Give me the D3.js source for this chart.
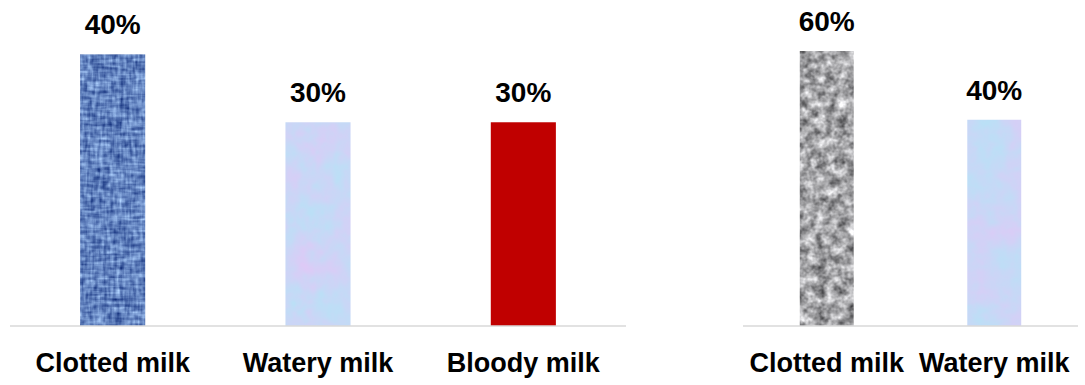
<!DOCTYPE html>
<html>
<head>
<meta charset="utf-8">
<script src="https://cdn.jsdelivr.net/npm/d3@7/dist/d3.min.js"></script>
<style>
  html, body { margin: 0; padding: 0; background: #ffffff; }
  svg { display: block; }
  text { font-family: "Liberation Sans", Arial, sans-serif; font-weight: bold; fill: #000; }
</style>
</head>
<body>
<svg id="chart" width="1085" height="385"></svg>
<script>
// Milk abnormality shares, two groups
const leftCategories = ["Clotted milk", "Watery milk", "Bloody milk"];
const leftValues = [40, 30, 30];
const leftLabels = ["40%", "30%", "30%"];

const rightCategories = ["Clotted milk", "Watery milk"];
const rightValues = [60, 40];
const rightLabels = ["60%", "40%"];

const svg = d3.select("#chart");
const defs = svg.append("defs");

// ---- texture filters (procedural noise clipped to each bar) ----
function noiseFilter(id, layers, matrix, blur) {
  const f = defs.append("filter").attr("id", id)
    .attr("x", 0).attr("y", 0).attr("width", 1).attr("height", 1)
    .attr("color-interpolation-filters", "sRGB");
  layers.forEach((l, i) => {
    f.append("feTurbulence")
      .attr("type", l.type || "fractalNoise")
      .attr("baseFrequency", l.freq)
      .attr("numOctaves", l.oct || 2)
      .attr("seed", l.seed || 1)
      .attr("stitchTiles", "stitch")
      .attr("result", "n" + i);
  });
  let last = "n0";
  for (let i = 1; i < layers.length; i++) {
    const w = layers[i].w;
    f.append("feComposite")
      .attr("in", last).attr("in2", "n" + i)
      .attr("operator", "arithmetic")
      .attr("k1", 0).attr("k2", 1 - w).attr("k3", w).attr("k4", 0)
      .attr("result", "m" + i);
    last = "m" + i;
  }
  f.append("feColorMatrix").attr("in", last).attr("type", "matrix")
    .attr("values", matrix).attr("result", "col");
  let src = "col";
  if (blur) {
    f.append("feGaussianBlur").attr("in", "col").attr("stdDeviation", blur).attr("result", "soft");
    src = "soft";
  }
  f.append("feComposite").attr("in", src).attr("in2", "SourceGraphic")
    .attr("operator", "in");
}

// woven blue denim
noiseFilter("denim", [
  { freq: "0.05 0.3", oct: 2, seed: 3 },
  { freq: "0.3 0.05", oct: 2, seed: 7, w: 0.5 },
  { freq: "0.22 0.22", oct: 1, seed: 11, w: 0.3 }
],
  "1.25 0 0 0 -0.24  " +
  "1.3 0 0 0 -0.14  " +
  "1.05 0 0 0 0.22  " +
  "0 0 0 0 1", 0.6);

// grey granite
noiseFilter("granite", [
  { freq: "0.1", oct: 3, seed: 5 },
  { freq: "0.3", oct: 1, seed: 9, w: 0.25 }
],
  "1.25 0 0 0 0.02  " +
  "1.25 0 0 0 0.02  " +
  "1.25 0 0 0 0.03  " +
  "0 0 0 0 1", 0.7);

// pale watercolour blue / lavender
noiseFilter("watery", [
  { freq: "0.025", oct: 3, seed: 2 },
  { freq: "0.1", oct: 2, seed: 4, w: 0.3 }
],
  "0.22 0 0 0 0.68  " +
  "-0.14 0 0 0 0.91  " +
  "0 0 0 0 0.965  " +
  "0 0 0 0 1");

const fillFor = {
  "Clotted milk|L": { fill: "#5a7fbf", filter: "url(#denim)" },
  "Watery milk|L": { fill: "#cfdcf6", filter: "url(#watery)" },
  "Bloody milk|L": { fill: "#c00000", filter: null },
  "Clotted milk|R": { fill: "#a8a8a8", filter: "url(#granite)" },
  "Watery milk|R": { fill: "#cfdcf6", filter: "url(#watery)" }
};

function drawPanel(key, cats, vals, labels, xRange, yScale, padInner) {
  const x = d3.scaleBand().domain(cats).range(xRange)
    .paddingInner(padInner).paddingOuter(padInner / 2);
  const base = yScale.range()[0];
  const g = svg.append("g");

  g.selectAll("rect.bar").data(cats).join("rect")
    .attr("class", "bar")
    .attr("x", d => x(d))
    .attr("width", x.bandwidth())
    .attr("y", (d, i) => yScale(vals[i]))
    .attr("height", (d, i) => base - yScale(vals[i]))
    .attr("fill", d => fillFor[d + "|" + key].fill)
    .attr("filter", d => fillFor[d + "|" + key].filter);

  // category axis line
  g.append("line")
    .attr("x1", xRange[0]).attr("x2", xRange[1])
    .attr("y1", base).attr("y2", base)
    .attr("stroke", "#d9d9d9").attr("stroke-width", 1.5);

  // value labels
  g.selectAll("text.val").data(cats).join("text")
    .attr("class", "val")
    .attr("x", d => x(d) + x.bandwidth() / 2)
    .attr("y", (d, i) => yScale(vals[i]) - 20)
    .attr("text-anchor", "middle")
    .attr("font-size", 28)
    .text((d, i) => labels[i]);

  // category labels
  g.selectAll("text.cat").data(cats).join("text")
    .attr("class", "cat")
    .attr("x", d => x(d) + x.bandwidth() / 2)
    .attr("y", 372)
    .attr("text-anchor", "middle")
    .attr("font-size", 27)
    .text(d => d);
}

const yLeft = d3.scaleLinear().domain([0, 45]).range([326, 20.4]);
const yRight = d3.scaleLinear().domain([-20, 60]).range([326, 51]);

drawPanel("L", leftCategories, leftValues, leftLabels, [10, 626], yLeft, 0.683);
drawPanel("R", rightCategories, rightValues, rightLabels, [743, 1078], yRight, 0.678);
</script>
</body>
</html>
